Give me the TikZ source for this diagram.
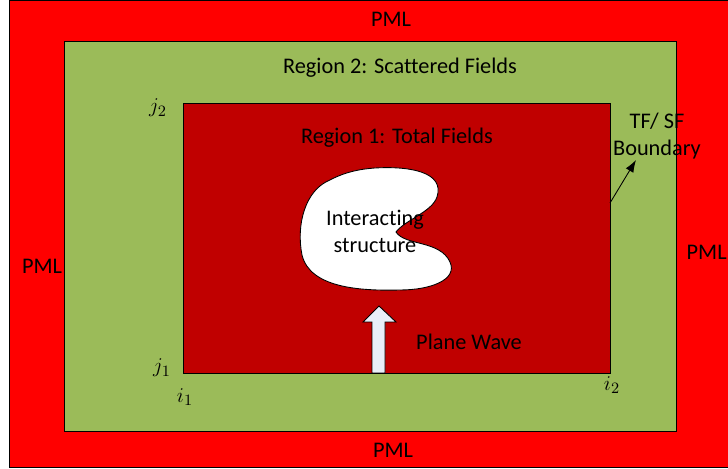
\documentclass[tikz,border=0pt]{standalone}
\usepackage{fontspec}
\setmainfont{Carlito}[Ligatures=NoCommon]
\usepackage{tikz}
\usetikzlibrary{arrows.meta, positioning, calc}

\definecolor{pmlred}{HTML}{FF0000}
\definecolor{scatgreen}{HTML}{9BBB59}
\definecolor{totalred}{HTML}{C00000}
\definecolor{waveblue}{HTML}{E9EEF8}

\begin{document}
\begin{tikzpicture}[x=0.02cm, y=-0.02cm,
    regionbox/.style={draw=black, line width=0.5pt},
    lbl/.style={font=\fontsize{12.7}{15.2}\selectfont, inner sep=0pt},
    idx/.style={font=\fontsize{12.5}{15}\selectfont, inner sep=0pt}]
    \clip (0,0) rectangle (728,469);

    % layers
    \draw[regionbox, fill=pmlred] (9,0) rectangle (760,467);
    \draw[regionbox, fill=scatgreen] (64,41) rectangle (676,431);
    \draw[regionbox, fill=totalred] (183,103) rectangle (610,373);

    % scatterer
    \draw[fill=white, line width=0.5pt] (375,168)
        .. controls (410,166) and (445,172) .. (437,197)
        .. controls (432,212) and (405,220) .. (396,232)
        .. controls (405,246) and (440,240) .. (450,262)
        .. controls (458,280) and (430,290) .. (400,290)
        .. controls (360,291) and (310,288) .. (302,255)
        .. controls (296,225) and (305,190) .. (330,180)
        .. controls (345,172) and (360,169) .. (375,168) -- cycle;

    % incident wave
    \draw[fill=waveblue, line width=0.5pt] (372,373) -- (372,322) -- (363,322)
        -- (379,306) -- (396,322) -- (385,322) -- (385,373) -- cycle;

    % labels
    \node[lbl] (pmltop) at (391,19) {PML};
    \node[lbl] (pmlbot) at (393,450) {PML};
    \node[lbl] (pmlleft) at (42,266) {PML};
    \node[lbl, anchor=east] (pmlright) at (727,252) {PML};
    \node[lbl] (reg2) at (400,68) {Region 2: Scattered Fields};
    \node[lbl] (reg1) at (397,138) {Region 1: Total Fields};
    \node[lbl, align=center, text depth=0pt] (struct) at (375,231) {Interacting\\structure};
    \node[lbl] (wave) at (469,342) {Plane Wave};
    \node[lbl, align=center] (tfsf) at (657,136) {TF/ SF\\Boundary};

    \node[idx] (j2) at (158,108) {$j_2$};
    \node[idx] (j1) at (162,368) {$j_1$};
    \node[idx] (i1) at (185,397) {$i_1$};
    \node[idx] (i2) at (612,385) {$i_2$};

    \coordinate (edge) at (610,203);
    \draw[-{Latex[length=7pt, width=5pt]}, line width=0.5pt] (edge) -- (636,160);
\end{tikzpicture}
\end{document}
